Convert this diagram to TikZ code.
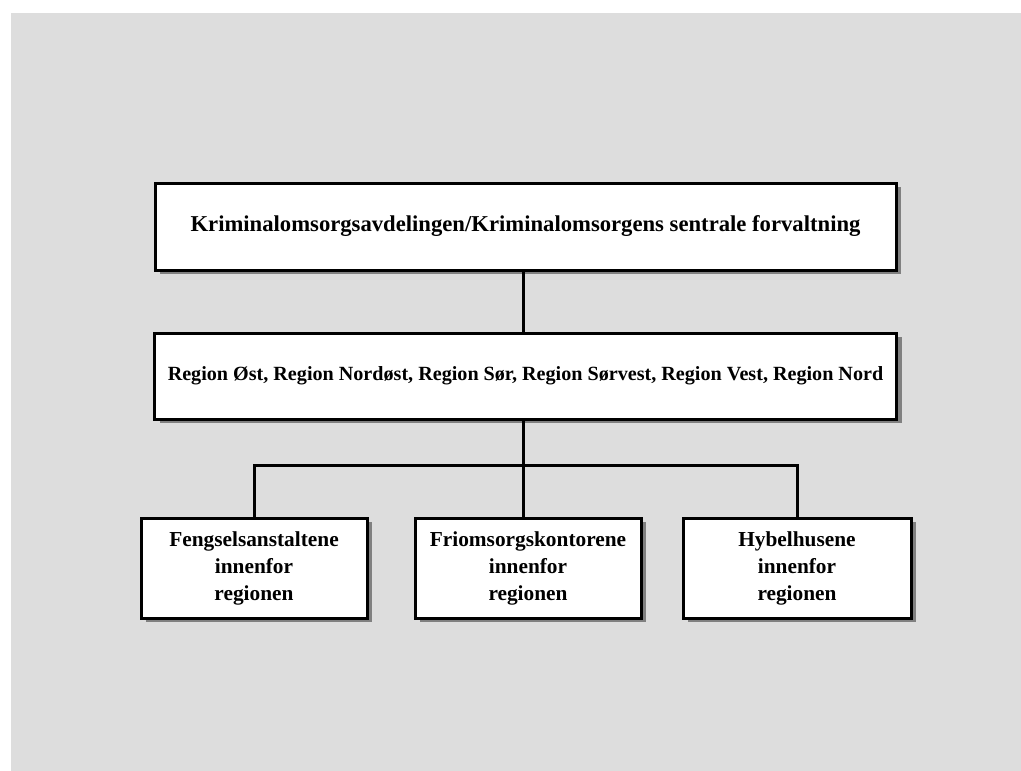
\documentclass[tikz,border=0pt]{standalone}
\usepackage{fontspec}
\setmainfont{Liberation Serif}
\usetikzlibrary{shadows}

\definecolor{bggray}{RGB}{221,221,221}
\definecolor{shadowgray}{RGB}{128,128,128}

\tikzset{every picture/.style={line width=2.25pt}}
\tikzset{
  orgbox/.style={draw=black, fill=white, line width=2.25pt, align=center, inner sep=0pt,
    font=\bfseries\fontsize{17}{20.25}\selectfont,
    drop shadow={shadow xshift=3.75pt, shadow yshift=-3pt, fill=shadowgray, opacity=1}},
  unitbox/.style={orgbox, minimum width=169.5pt, minimum height=75pt,
    font=\bfseries\fontsize{16}{20.25}\selectfont},
  link/.style={draw=black, line width=2.25pt}
}

\begin{document}
\begin{tikzpicture}[x=0.75pt,y=0.75pt,yscale=-1,xscale=1]
%set diagram to 1021 x 771
\useasboundingbox (0,0) rectangle (1021,771);
\fill[bggray] (11,13) rectangle (1021,771);

% Top level
\node[orgbox, minimum width=555.75pt, minimum height=65.25pt] (sentral) at (525.5,226.5) {Kriminalomsorgsavdelingen/Kriminalomsorgens sentrale forvaltning};
% Regions
\node[orgbox, minimum width=556.5pt, minimum height=64.5pt, font=\bfseries\fontsize{15.1}{18}\selectfont] (region) at (525.5,376) {Region Øst, Region Nordøst, Region Sør, Region Sørvest, Region Vest, Region Nord};
% Units within a region
\node[unitbox] (fengsel) at (254,568) {Fengselsanstaltene\\innenfor\\regionen};
\node[unitbox] (friomsorg) at (528,568) {Friomsorgskontorene\\innenfor\\regionen};
\node[unitbox, minimum width=171pt] (hybel) at (797,568) {Hybelhusene\\innenfor\\regionen};

\coordinate (bar) at (523,465);

\draw[link] (sentral.south -| bar) -- (region.north -| bar);
\draw[link] (region.south -| bar) -- (friomsorg.north -| bar);
\draw[link] (fengsel.north) -- (fengsel.north |- bar) -- (hybel.north |- bar) -- (hybel.north);

\end{tikzpicture}
\end{document}
